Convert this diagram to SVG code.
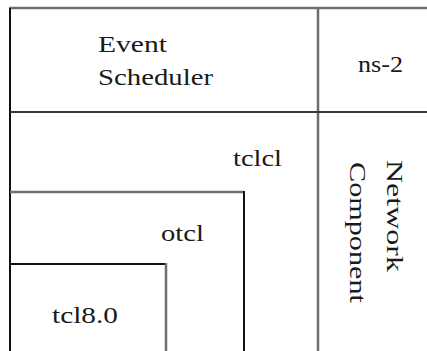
<svg xmlns="http://www.w3.org/2000/svg" width="427" height="351" viewBox="0 0 427 351">
  <style>
    .frame { fill: none; stroke: #3a3a3a; stroke-width: 2; }
    .soft { fill: none; stroke: #6e6e6e; stroke-width: 2.5; }
    .hard { fill: none; stroke: #111; stroke-width: 2; }
    .lbl { font-family: "Liberation Serif", "Times New Roman", serif; font-size: 23px; fill: #1a1a1a; }
  </style>
  <rect width="427" height="351" fill="#fff"/>

  <!-- outer frame and dividers -->
  <g id="frame">
    <line class="soft" x1="9" y1="8" x2="427" y2="8"/>
    <line class="hard" x1="10" y1="8" x2="10" y2="351"/>
    <line class="soft" x1="318" y1="8" x2="318" y2="351"/>
    <line class="frame" x1="10" y1="112" x2="427" y2="112"/>
  </g>

  <g id="event-scheduler">
    <text class="lbl" x="98" y="52" textLength="69" lengthAdjust="spacingAndGlyphs">Event</text>
    <text class="lbl" x="98" y="85" textLength="115" lengthAdjust="spacingAndGlyphs">Scheduler</text>
  </g>

  <g id="ns-2">
    <text class="lbl" x="358" y="72" textLength="45" lengthAdjust="spacingAndGlyphs">ns-2</text>
  </g>

  <g id="tclcl">
    <text class="lbl" x="233" y="166" textLength="49" lengthAdjust="spacingAndGlyphs">tclcl</text>
  </g>

  <g id="otcl">
    <line class="soft" x1="10" y1="192" x2="244" y2="192"/>
    <line class="hard" x1="244" y1="191" x2="244" y2="351"/>
    <text class="lbl" x="161" y="241" textLength="43" lengthAdjust="spacingAndGlyphs">otcl</text>
  </g>

  <g id="tcl8.0">
    <line class="hard" x1="10" y1="264" x2="166" y2="264"/>
    <line class="soft" x1="166" y1="263" x2="166" y2="351"/>
    <text class="lbl" x="52" y="323" textLength="66" lengthAdjust="spacingAndGlyphs">tcl8.0</text>
  </g>

  <g id="network-component">
    <text class="lbl" transform="translate(387,160) rotate(90)" textLength="112" lengthAdjust="spacingAndGlyphs">Network</text>
    <text class="lbl" transform="translate(350,162) rotate(90)" textLength="141" lengthAdjust="spacingAndGlyphs">Component</text>
  </g>
</svg>
